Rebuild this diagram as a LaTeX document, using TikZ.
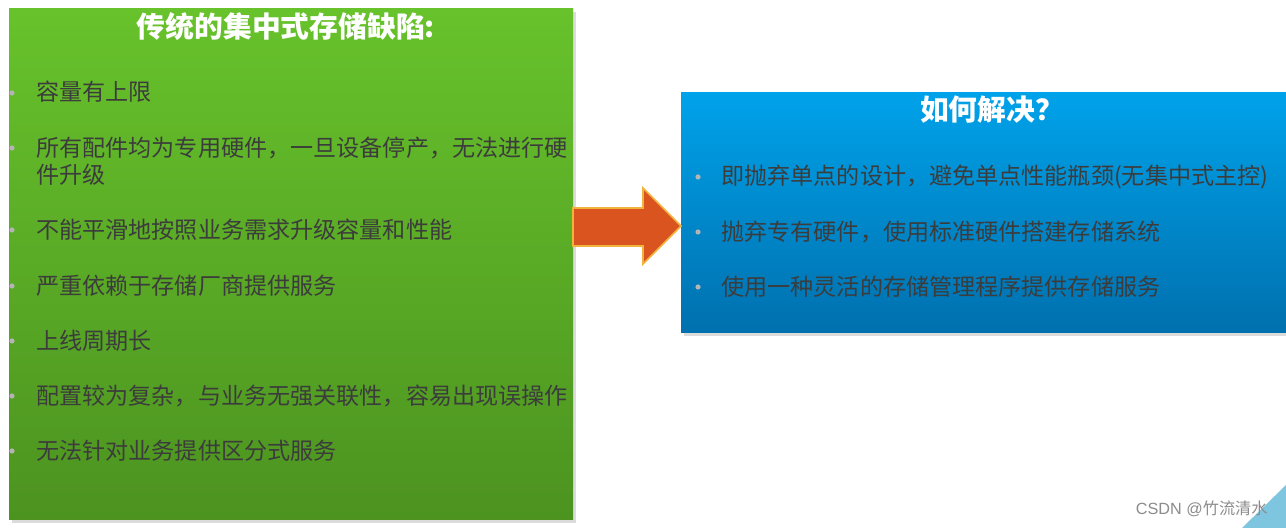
\documentclass[tikz,border=0pt]{standalone}
\usepackage{fontspec}
\setmainfont{Noto Sans CJK SC}
\newfontfamily\latinf{Liberation Sans}
\definecolor{gtop}{HTML}{67C22B}
\definecolor{gbot}{HTML}{4C9320}
\definecolor{btop}{HTML}{00A2EA}
\definecolor{bbot}{HTML}{0070AE}
\definecolor{txt}{HTML}{3C3C3C}
\definecolor{bul}{HTML}{B4B4B4}
\definecolor{arrfill}{HTML}{D9541E}
\definecolor{arrline}{HTML}{F2B33D}
\definecolor{tri}{HTML}{7EC6E0}
\definecolor{wm}{HTML}{8C8C8C}
\tikzset{
  item/.style={anchor=west, inner sep=0pt, text=txt, font=\fontsize{11.55pt}{13.6pt}\selectfont, align=left},
  dot/.style={circle, fill=bul, inner sep=0pt, minimum size=2.6pt},
  ttl/.style={inner sep=0pt, text=white, font=\fontsize{14.4pt}{16pt}\selectfont\bfseries},
}
\begin{document}
\begin{tikzpicture}[x=0.5pt,y=-0.5pt]
\useasboundingbox (0,0) rectangle (1286,528);
\fill[white] (0,0) rectangle (1286,528);
% shadows
\fill[black!14] (12,12) rectangle (576,523);
\fill[black!14] (684,96) rectangle (1286,336);
% left box
\shade[top color=gtop, bottom color=gbot] (9,9) rectangle (573,520);
% right box
\shade[top color=btop, bottom color=bbot] (681,93) rectangle (1286,333);
% arrow
\fill[arrfill, draw=arrline, line width=0.8pt, line join=miter]
  (573,208) -- (643,208) -- (643,188) -- (681,226) -- (643,264) -- (643,246) -- (573,246) -- cycle;
% titles
\node[ttl] (t1) at (286,27) {传统的集中式存储缺陷:};
\node[ttl] (t2) at (992,110) {如何解决？};
% left items
\foreach \y/\t [count=\i] in {92/{容量有上限},
  161.5/{所有配件均为专用硬件，一旦设备停产，无法进行硬\\件升级},
  230/{不能平滑地按照业务需求升级容量和性能},
  286/{严重依赖于存储厂商提供服务},
  341/{上线周期长},
  396/{配置较为复杂，与业务无强关联性，容易出现误操作},
  451/{无法针对业务提供区分式服务}} {
  \node[item] (l\i) at (36,\y) {\t};
}
\foreach \y [count=\i] in {93,148,230,286,341,396,451} {
  \node[dot] (ld\i) at (12,\y) {};
}
% right items
\node[item] (r1) at (721,177) {即抛弃单点的设计，避免单点性能瓶颈(无集中式主控)};
\node[item] (r2) at (721,232) {抛弃专有硬件，使用标准硬件搭建存储系统};
\node[item] (r3) at (721,287) {使用一种灵活的存储管理程序提供存储服务};
\node[dot] (rd1) at (698,177) {};
\node[dot] (rd2) at (698,232) {};
\node[dot] (rd3) at (698,287) {};
% corner triangle
\fill[tri] (1286,485) -- (1286,528) -- (1242,528) -- cycle;
% watermark
\node[anchor=east, inner sep=0pt, text=wm, font=\fontsize{8.1pt}{9pt}\selectfont] (wm) at (1268,509) {{\latinf CSDN @}竹流清水};
\end{tikzpicture}
\end{document}
